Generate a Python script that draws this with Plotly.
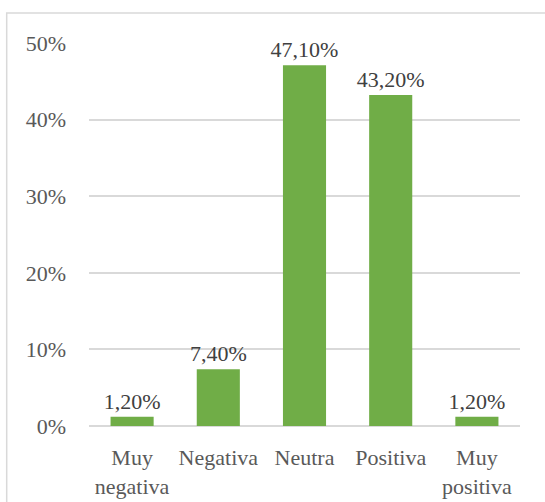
import plotly.graph_objects as go

categories = ["Muy<br>negativa", "Negativa", "Neutra", "Positiva", "Muy<br>positiva"]
values = [1.2, 7.4, 47.1, 43.2, 1.2]
labels = [f"{v:.2f}%".replace(".", ",") for v in values]
tick_vals = [0, 10, 20, 30, 40, 50]
tick_text = [f"{t}%" for t in tick_vals]

font_family = "Liberation Serif, Times New Roman, serif"
FS = 22

fig = go.Figure()
fig.add_trace(go.Bar(
    x=categories, y=values, text=labels, textposition="outside",
    constraintext="none",
    marker=dict(color="#70AD47", line=dict(width=0)),
    textfont=dict(family=font_family, size=FS, color="#404040"),
    cliponaxis=False,
))

L, R, T, B = 89, 25, 42.5, 75.5
W, H = 545, 502
pw = W - L - R
ph = H - T - B

fig.update_layout(
    width=W, height=H,
    margin=dict(l=L, r=R, t=T, b=B, pad=0),
    paper_bgcolor="white", plot_bgcolor="white",
    bargap=0.5,
    showlegend=False,
    font=dict(family=font_family, size=FS, color="#595959"),
    xaxis=dict(showgrid=False, showline=False, ticks="", automargin=False,
               tickfont=dict(size=FS, color="#595959"), ticklabelstandoff=16),
    yaxis=dict(range=[0, 50], tickvals=tick_vals, ticktext=tick_text, automargin=False,
               showgrid=True, gridcolor="#d9d9d9", gridwidth=1.5,
               zeroline=True, zerolinecolor="#d9d9d9", zerolinewidth=2,
               showline=False, ticks="", ticklabelstandoff=22,
               tickfont=dict(size=FS, color="#595959")),
    shapes=[dict(type="rect", xref="paper", yref="paper",
                 x0=(6.7 - L) / pw, x1=(W + 5 - L) / pw,
                 y0=(H - B - H - 5) / ph, y1=(H - B - 12.5) / ph,
                 line=dict(color="#d9d9d9", width=1.5), fillcolor="rgba(0,0,0,0)",
                 layer="below")],
)

fig.write_html("out.html")
